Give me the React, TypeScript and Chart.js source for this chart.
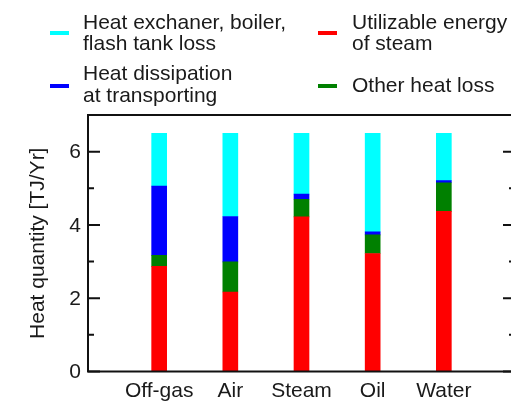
import React, { useEffect, useRef } from 'react';
import { Chart, registerables } from 'chart.js';

Chart.register(...registerables);

const categories = ['Off-gas', 'Air', 'Steam', 'Oil', 'Water'];
const utilizableEnergy = [2.87, 2.17, 4.22, 3.22, 4.37];
const otherHeatLoss = [0.3, 0.82, 0.48, 0.51, 0.78];
const heatDissipation = [1.89, 1.24, 0.14, 0.08, 0.06];
const exchangerLoss = [1.44, 2.27, 1.66, 2.69, 1.29];

const yMajorTicks = [0, 2, 4, 6];
const yMinorTicks = [1, 3, 5];
const yTickLabels = ['0', '2', '4', '6'];
const yTitle = 'Heat quantity [TJ/Yr]';

const legendCyan = ['Heat exchaner, boiler,', 'flash tank loss'];
const legendRed = ['Utilizable energy', 'of steam'];
const legendBlue = ['Heat dissipation', 'at transporting'];
const legendGreen = ['Other heat loss'];

const FONT = '21px "Liberation Sans", Arial, sans-serif';
const TEXT = '#1a1a1a';

const pad = (arr: number[]) => [null, ...arr, null];

export default function App() {
  const ref = useRef<HTMLCanvasElement | null>(null);

  useEffect(() => {
    if (!ref.current) return;
    const decor = {
      id: 'decor',
      afterDraw(chart: any) {
        const ctx = chart.ctx;
        const a = chart.chartArea;
        const ys = chart.scales.y;
        const xs = chart.scales.x;
        ctx.save();
        ctx.strokeStyle = '#111';
        ctx.lineWidth = 2;
        ctx.strokeRect(a.left, a.top, a.right - a.left, a.bottom - a.top);
        // ticks (inward, both sides)
        const drawTick = (v: number, len: number) => {
          const y = ys.getPixelForValue(v);
          ctx.beginPath();
          ctx.moveTo(a.left, y);
          ctx.lineTo(a.left + len, y);
          ctx.moveTo(a.right, y);
          ctx.lineTo(a.right - len, y);
          ctx.stroke();
        };
        yMajorTicks.forEach((v) => drawTick(v, 12));
        yMinorTicks.forEach((v) => drawTick(v, 6));
        ctx.fillStyle = TEXT;
        ctx.font = FONT;
        // y labels
        ctx.textAlign = 'right';
        ctx.textBaseline = 'middle';
        yMajorTicks.forEach((v, i) => {
          ctx.fillText(yTickLabels[i], a.left - 7, ys.getPixelForValue(v) + 1);
        });
        // x labels
        ctx.textAlign = 'center';
        ctx.textBaseline = 'alphabetic';
        categories.forEach((c, i) => {
          ctx.fillText(c, xs.getPixelForValue(i + 1), 397);
        });
        // y title
        ctx.save();
        ctx.translate(38, (a.top + a.bottom) / 2);
        ctx.rotate(-Math.PI / 2);
        ctx.textAlign = 'center';
        ctx.textBaseline = 'middle';
        ctx.fillText(yTitle, 0, 0);
        ctx.restore();
        // legend
        const entries = [
          { color: chart.data.datasets[3].backgroundColor, lines: legendCyan, mx: 50, tx: 83, my: 33, base: 28.5 },
          { color: chart.data.datasets[0].backgroundColor, lines: legendRed, mx: 318, tx: 352, my: 33, base: 28.5 },
          { color: chart.data.datasets[2].backgroundColor, lines: legendBlue, mx: 50, tx: 83, my: 86, base: 80 },
          { color: chart.data.datasets[1].backgroundColor, lines: legendGreen, mx: 318, tx: 352, my: 86, base: 91.5 },
        ];
        ctx.textAlign = 'left';
        entries.forEach((e) => {
          ctx.fillStyle = e.color;
          ctx.fillRect(e.mx, e.my - 2, 19, 4);
          ctx.fillStyle = TEXT;
          e.lines.forEach((ln, k) => ctx.fillText(ln, e.tx, e.base + k * 21.7));
        });
        ctx.restore();
      },
    };

    const chart = new Chart(ref.current, {
      type: 'bar',
      data: {
        labels: ['', ...categories, ''],
        datasets: [
          { label: legendRed.join(' '), data: pad(utilizableEnergy), backgroundColor: '#ff0000' },
          { label: legendGreen.join(' '), data: pad(otherHeatLoss), backgroundColor: '#008000' },
          { label: legendBlue.join(' '), data: pad(heatDissipation), backgroundColor: '#0000ff' },
          { label: legendCyan.join(' '), data: pad(exchangerLoss), backgroundColor: '#00ffff' },
        ] as any,
      },
      options: {
        responsive: false,
        animation: false,
        layout: { padding: { left: 88, right: 15, top: 115, bottom: 30.5 } },
        datasets: { bar: { barThickness: 15 } } as any,
        plugins: { legend: { display: false }, tooltip: { enabled: false } },
        scales: {
          x: { type: 'category', stacked: true, offset: false, display: false },
          y: { stacked: true, min: 0, max: 7, display: false },
        },
      },
      plugins: [decor],
    });
    return () => chart.destroy();
  }, []);

  return (
    <div style={{ position: 'absolute', left: 0, top: 0, width: 511, height: 402, overflow: 'hidden', background: '#fff' }}>
      <canvas ref={ref} width={530} height={402} style={{ display: 'block' }} />
    </div>
  );
}
